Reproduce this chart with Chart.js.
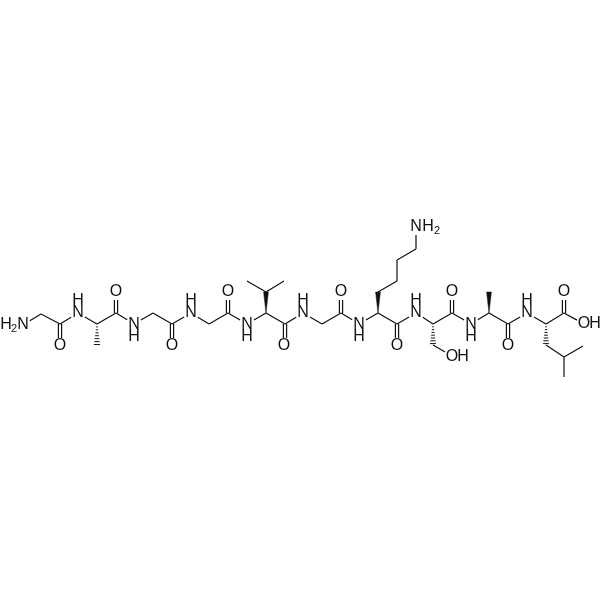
<!DOCTYPE html>
<html>
<head>
<meta charset="utf-8">
<script src="https://cdn.jsdelivr.net/npm/chart.js@4"></script>
<style>
html,body{margin:0;padding:0;background:#fff;}
canvas{display:block;}
</style>
</head>
<body>
<canvas id="canvas" width="600" height="600"></canvas>
<script>
// atom positions, index = atom number
var atomX = [23,41,60,60,78,97,97,116,116,134,153,172,172,191,209,228,228,247,266,266,247,284,285,285,303,322,341,341,359,378,378,397,397,416,416,397,397,416,433,433,452,452,452,471,489,489,508,508,527,546,546,564,583,564,564,564,584];
var atomY = [325,314,324,346,313,324,346,313,292,324,313,324,346,313,324,313,292,324,313,292,281,281,324,346,313,324,313,292,324,313,292,281,260,249,227,324,346,313,324,345,356,313,292,324,313,292,324,346,313,324,345,357,346,377,313,292,324];
// atoms with a letter on them, bonds stop short of these
var heteroAtoms = [0,3,4,8,9,12,13,16,17,23,24,27,28,34,36,37,40,42,43,47,48,55,56];

var singleBonds = [[0,1],[1,2],[2,4],[4,5],[5,7],[7,9],[9,10],[10,11],[11,13],[13,14],[14,15],[15,17],[17,18],[18,22],[22,24],[24,25],[25,26],[26,28],[28,29],[29,35],[35,37],[37,38],[38,41],[41,43],[43,44],[44,46],[46,48],[48,49],[49,54],[54,56],[19,20],[19,21],[30,31],[31,32],[32,33],[33,34],[39,40],[50,51],[51,52],[51,53]];
var doubleBonds = [[2,3],[7,8],[11,12],[15,16],[22,23],[26,27],[35,36],[41,42],[46,47],[54,55]];
var wedgeBonds = [[18,19],[29,30],[44,45]];
var hashBonds = [[5,6],[38,39],[49,50]];

var labelText = ["H","N","O","N","H","O","N","H","O","N","H","O","N","H","O","N","H","O","N","H","N","H","O","N","H","O","H","O","N","H","O","N","H","O","O","H"];
var labelX = [6,23,60,78,78,116,134,134,172,191,191,228,247,247,284,303,303,341,359,359,416,428,397,416,416,452,463,452,471,471,508,527,527,564,584,595];
var labelY = [325,325,346,313,301,292,325,337,346,313,301,292,325,337,346,313,301,292,325,337,227,227,346,313,301,357,357,292,325,337,346,313,301,292,324,324];
var subText = ["2","2"];
var subX = [14,437];
var subY = [329,231];

function trimmed(a,b){
	var x1 = atomX[a], y1 = atomY[a], x2 = atomX[b], y2 = atomY[b];
	var len = Math.sqrt((x2-x1)*(x2-x1)+(y2-y1)*(y2-y1));
	var ux = (x2-x1)/len, uy = (y2-y1)/len;
	if(heteroAtoms.indexOf(a) >= 0){ x1 += ux*8; y1 += uy*8; }
	if(heteroAtoms.indexOf(b) >= 0){ x2 -= ux*8; y2 -= uy*8; }
	return {x1:x1,y1:y1,x2:x2,y2:y2,ux:ux,uy:uy,len:len};
}

var gap = {x:NaN,y:NaN};

function singlePoints(){
	var pts = [];
	for(var i = 0; i < singleBonds.length; i++){
		var t = trimmed(singleBonds[i][0],singleBonds[i][1]);
		pts.push({x:t.x1,y:t.y1},{x:t.x2,y:t.y2},gap);
	}
	return pts;
}

function doublePoints(){
	var pts = [];
	for(var i = 0; i < doubleBonds.length; i++){
		var t = trimmed(doubleBonds[i][0],doubleBonds[i][1]);
		var ox = -t.uy*1.6, oy = t.ux*1.6;
		pts.push({x:t.x1+ox,y:t.y1+oy},{x:t.x2+ox,y:t.y2+oy},gap);
		pts.push({x:t.x1-ox,y:t.y1-oy},{x:t.x2-ox,y:t.y2-oy},gap);
	}
	return pts;
}

function hashPoints(){
	var pts = [];
	for(var i = 0; i < hashBonds.length; i++){
		var t = trimmed(hashBonds[i][0],hashBonds[i][1]);
		for(var j = 1; j <= 7; j++){
			var d = t.len*j/7.5, w = 0.4+d*0.13;
			var cx = t.x1+t.ux*d, cy = t.y1+t.uy*d;
			pts.push({x:cx-t.uy*w,y:cy+t.ux*w},{x:cx+t.uy*w,y:cy-t.ux*w},gap);
		}
	}
	return pts;
}

var datasets = [];
datasets.push({data:singlePoints(),showLine:true,borderColor:"#111",borderWidth:1.2,pointRadius:0,spanGaps:false});
datasets.push({data:doublePoints(),showLine:true,borderColor:"#111",borderWidth:1.2,pointRadius:0,spanGaps:false});
datasets.push({data:hashPoints(),showLine:true,borderColor:"#111",borderWidth:1,pointRadius:0,spanGaps:false});
for(var i = 0; i < wedgeBonds.length; i++){
	var t = trimmed(wedgeBonds[i][0],wedgeBonds[i][1]);
	datasets.push({
		data:[{x:t.x1,y:t.y1},{x:t.x2-t.uy*2.4,y:t.y2+t.ux*2.4},{x:t.x2+t.uy*2.4,y:t.y2-t.ux*2.4},{x:t.x1,y:t.y1}],
		showLine:true,fill:"shape",backgroundColor:"#111",borderColor:"#111",borderWidth:0.5,pointRadius:0
	});
}

var atomLabels = {
	id:"atomLabels",
	afterDatasetsDraw:function(chart){
		var ctx = chart.ctx, sx = chart.scales.x, sy = chart.scales.y;
		ctx.save();
		ctx.fillStyle = "#111";
		ctx.textAlign = "center";
		ctx.textBaseline = "middle";
		ctx.font = "16px 'Liberation Sans'";
		for(var i = 0; i < labelText.length; i++){
			ctx.fillText(labelText[i],sx.getPixelForValue(labelX[i]),sy.getPixelForValue(labelY[i]));
		}
		ctx.font = "11px 'Liberation Sans'";
		for(var j = 0; j < subText.length; j++){
			ctx.fillText(subText[j],sx.getPixelForValue(subX[j]),sy.getPixelForValue(subY[j]));
		}
		ctx.restore();
	}
};

var chart = new Chart(document.getElementById("canvas").getContext("2d"),{
	type:"scatter",
	data:{datasets:datasets},
	plugins:[atomLabels],
	options:{
		responsive:false,
		animation:false,
		layout:{padding:0},
		plugins:{legend:{display:false},tooltip:{enabled:false}},
		scales:{
			x:{type:"linear",min:0,max:600,display:false},
			y:{type:"linear",min:0,max:600,reverse:true,display:false}
		}
	}
});
</script>
</body>
</html>
